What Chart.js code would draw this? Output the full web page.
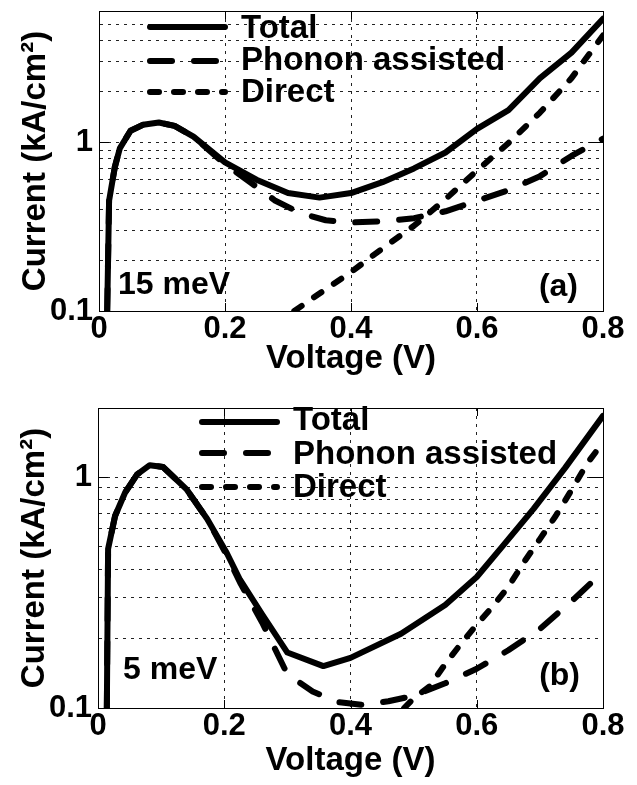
<!DOCTYPE html>
<html>
<head>
<meta charset="utf-8">
<title>Current vs voltage</title>
<script src="https://cdn.jsdelivr.net/npm/chart.js"></script>
<style>
  body { margin: 0; background: #fff; }
  #panelA { position: absolute; left: 0; top: 0; width: 637px; height: 390px; }
  #panelB { position: absolute; left: 0; top: 390px; width: 637px; height: 395px; }
</style>
</head>
<body>
<div id="panelA"><canvas id="chartA" width="637" height="390"></canvas></div>
<div id="panelB"><canvas id="chartB" width="637" height="395"></canvas></div>
<script>
// x ticks shared by both panels
var xTicks = [0, 0.2, 0.4, 0.6, 0.8];
var yGridA = [0.1, 0.2, 0.3, 0.4, 0.5, 0.6, 0.7, 0.8, 0.9, 1, 2, 3, 4, 5, 6];
var yGridB = [0.1, 0.2, 0.3, 0.4, 0.5, 0.6, 0.7, 0.8, 0.9, 1, 2];
var yLabels = [0.1, 1];

// (a) 15 meV
var totalA_V = [0.013, 0.016, 0.025, 0.033, 0.05, 0.07, 0.095, 0.12, 0.15, 0.2, 0.25, 0.3, 0.35, 0.4, 0.45, 0.5, 0.55, 0.6, 0.65, 0.7, 0.75, 0.8];
var totalA_J = [0.1, 0.45, 0.71, 0.92, 1.17, 1.27, 1.31, 1.25, 1.08, 0.76, 0.6, 0.5, 0.47, 0.5, 0.58, 0.7, 0.87, 1.2, 1.55, 2.4, 3.4, 5.4];
var phononA_V = [0.013, 0.016, 0.025, 0.033, 0.05, 0.07, 0.095, 0.12, 0.15, 0.2, 0.24, 0.28, 0.32, 0.36, 0.4, 0.45, 0.5, 0.55, 0.6, 0.65, 0.7, 0.75, 0.8];
var phononA_J = [0.1, 0.45, 0.71, 0.92, 1.17, 1.27, 1.31, 1.25, 1.08, 0.74, 0.58, 0.45, 0.38, 0.345, 0.335, 0.34, 0.355, 0.39, 0.45, 0.52, 0.63, 0.83, 1.05];
var directA_V = [0.31, 0.35, 0.4, 0.45, 0.5, 0.55, 0.6, 0.65, 0.7, 0.75, 0.8];
var directA_J = [0.1, 0.127, 0.17, 0.235, 0.32, 0.46, 0.68, 0.99, 1.5, 2.4, 4.3];

// (b) 5 meV
var totalB_V = [0.014, 0.016, 0.027, 0.043, 0.062, 0.082, 0.103, 0.14, 0.173, 0.204, 0.225, 0.26, 0.3, 0.357, 0.4, 0.48, 0.55, 0.6, 0.64, 0.69, 0.74, 0.8];
var totalB_J = [0.1, 0.49, 0.68, 0.86, 1.03, 1.13, 1.11, 0.89, 0.66, 0.47, 0.36, 0.255, 0.174, 0.152, 0.165, 0.21, 0.28, 0.37, 0.5, 0.73, 1.1, 1.85];
var phononB_V = [0.014, 0.016, 0.027, 0.043, 0.062, 0.082, 0.103, 0.14, 0.173, 0.204, 0.225, 0.26, 0.3, 0.34, 0.38, 0.42, 0.46, 0.5, 0.55, 0.6, 0.65, 0.7, 0.75, 0.8];
var phononB_J = [0.1, 0.49, 0.68, 0.86, 1.03, 1.13, 1.11, 0.89, 0.66, 0.46, 0.35, 0.235, 0.14, 0.118, 0.106, 0.103, 0.107, 0.113, 0.128, 0.148, 0.178, 0.22, 0.29, 0.39];
var directB_V = [0.485, 0.5, 0.525, 0.55, 0.575, 0.6, 0.625, 0.65, 0.675, 0.7, 0.725, 0.75, 0.775, 0.8];
var directB_J = [0.1, 0.11, 0.124, 0.155, 0.19, 0.23, 0.275, 0.335, 0.43, 0.54, 0.68, 0.88, 1.15, 1.42];

var FONT = '"Liberation Sans", Arial, Helvetica, sans-serif';

function lineSet(label, xs, ys, dash) {
  return {
    label: label,
    data: xs.map(function (x, i) { return { x: x, y: ys[i] }; }),
    borderColor: '#000',
    borderWidth: 6,
    borderDash: dash,
    borderCapStyle: 'round',
    borderJoinStyle: 'round',
    pointRadius: 0,
    tension: 0,
    fill: false
  };
}

// frame, inner tick marks, legend and panel notes (matlab look)
function extras(o) {
  return {
    id: 'extras',
    afterDatasetsDraw: function (chart) {
      var ctx = chart.ctx, a = chart.chartArea;
      var xs = chart.scales.x, ys = chart.scales.y;
      ctx.save();
      ctx.strokeStyle = '#000';
      ctx.lineWidth = 1;
      ctx.setLineDash([]);
      ctx.strokeRect(a.left + 0.5, a.top + 0.5, a.right - a.left, a.bottom - a.top);
      ctx.beginPath();
      xTicks.forEach(function (v) {
        var px = Math.round(xs.getPixelForValue(v)) + 0.5;
        ctx.moveTo(px, a.bottom); ctx.lineTo(px, a.bottom - 8);
        ctx.moveTo(px, a.top); ctx.lineTo(px, a.top + 8);
      });
      yLabels.forEach(function (v) {
        var py = Math.round(ys.getPixelForValue(v)) + 0.5;
        ctx.moveTo(a.left, py); ctx.lineTo(a.left + 10, py);
        ctx.moveTo(a.right, py); ctx.lineTo(a.right - 14, py);
      });
      ctx.stroke();

      // legend
      ctx.fillStyle = '#000';
      ctx.font = 'bold 33px ' + FONT;
      ctx.textBaseline = 'middle';
      ctx.textAlign = 'left';
      chart.data.datasets.forEach(function (ds, i) {
        var y = o.rows[i];
        ctx.beginPath();
        ctx.lineWidth = ds.borderWidth;
        ctx.lineCap = 'round';
        ctx.setLineDash(ds.borderDash || []);
        ctx.moveTo(o.x1, y); ctx.lineTo(o.x2, y);
        ctx.stroke();
        ctx.fillText(ds.label, o.tx, o.textRows[i]);
      });

      ctx.font = 'bold 32px ' + FONT;
      o.notes.forEach(function (n) {
        ctx.textAlign = n.align;
        ctx.fillText(n.text, n.x, n.y);
      });
      ctx.restore();
    }
  };
}

function makePanel(id, sets, yGrid, yMax, p) {
  var gridOpts = { color: '#222', lineWidth: 1, drawTicks: false };
  var borderOpts = { display: true, color: '#000', width: 1, dash: [3, 5] };
  return new Chart(document.getElementById(id), {
    type: 'line',
    data: { datasets: sets },
    plugins: [extras(p)],
    options: {
      responsive: false,
      animation: false,
      devicePixelRatio: 1,
      layout: { padding: { left: 0, right: 34, top: p.top, bottom: 0 } },
      plugins: { legend: { display: false }, tooltip: { enabled: false } },
      scales: {
        x: {
          type: 'linear', min: 0, max: 0.8,
          afterBuildTicks: function (s) { s.ticks = xTicks.map(function (v) { return { value: v }; }); },
          afterFit: function (s) { s.height = p.axisH; s.paddingLeft = 0; s.paddingRight = 0; },
          grid: gridOpts, border: borderOpts,
          ticks: {
            padding: 0, color: '#000', autoSkip: false, maxRotation: 0,
            font: { family: FONT, size: 31, weight: 'bold' },
            callback: function (v) { return String(v); }
          },
          title: {
            display: true, text: 'Voltage (V)', color: '#000',
            font: { family: FONT, size: 33, weight: 'bold' },
            padding: { top: 0, bottom: p.xTitlePad }
          }
        },
        y: {
          type: 'logarithmic', min: 0.1, max: yMax,
          afterBuildTicks: function (s) { s.ticks = yGrid.map(function (v) { return { value: v }; }); },
          afterFit: function (s) { s.width = p.axisW; s.paddingTop = 0; s.paddingBottom = 0; },
          grid: gridOpts, border: borderOpts,
          ticks: {
            padding: 6, color: '#000', autoSkip: false,
            font: { family: FONT, size: 31, weight: 'bold' },
            callback: function (v) { return yLabels.indexOf(v) >= 0 ? String(v) : ''; }
          },
          title: {
            display: true, text: 'Current (kA/cm\u00B2)', color: '#000',
            font: { family: FONT, size: 33, weight: 'bold' },
            padding: { top: p.yTitlePad, bottom: 0 }
          }
        }
      }
    }
  });
}

makePanel('chartA', [
  lineSet('Total', totalA_V, totalA_J, []),
  lineSet('Phonon assisted', phononA_V, phononA_J, [22, 22]),
  lineSet('Direct', directA_V, directA_J, [9, 15])
], yGridA, 6, {
  top: 11, axisH: 79, axisW: 99, xTitlePad: 11, yTitlePad: 16,
  x1: 150, x2: 225, tx: 241, rows: [27, 61, 92], textRows: [29, 61, 93],
  notes: [{ text: '15 meV', x: 118, y: 285, align: 'left' }, { text: '(a)', x: 578, y: 287, align: 'right' }]
});

makePanel('chartB', [
  lineSet('Total', totalB_V, totalB_J, []),
  lineSet('Phonon assisted', phononB_V, phononB_J, [22, 22]),
  lineSet('Direct', directB_V, directB_J, [9, 15])
], yGridB, 2, {
  top: 18, axisH: 77, axisW: 98, xTitlePad: 4, yTitlePad: 15,
  x1: 202, x2: 277, tx: 293, rows: [32, 63, 97], textRows: [31, 65, 98],
  notes: [{ text: '5 meV', x: 123, y: 280, align: 'left' }, { text: '(b)', x: 580, y: 286, align: 'right' }]
});
</script>
</body>
</html>
